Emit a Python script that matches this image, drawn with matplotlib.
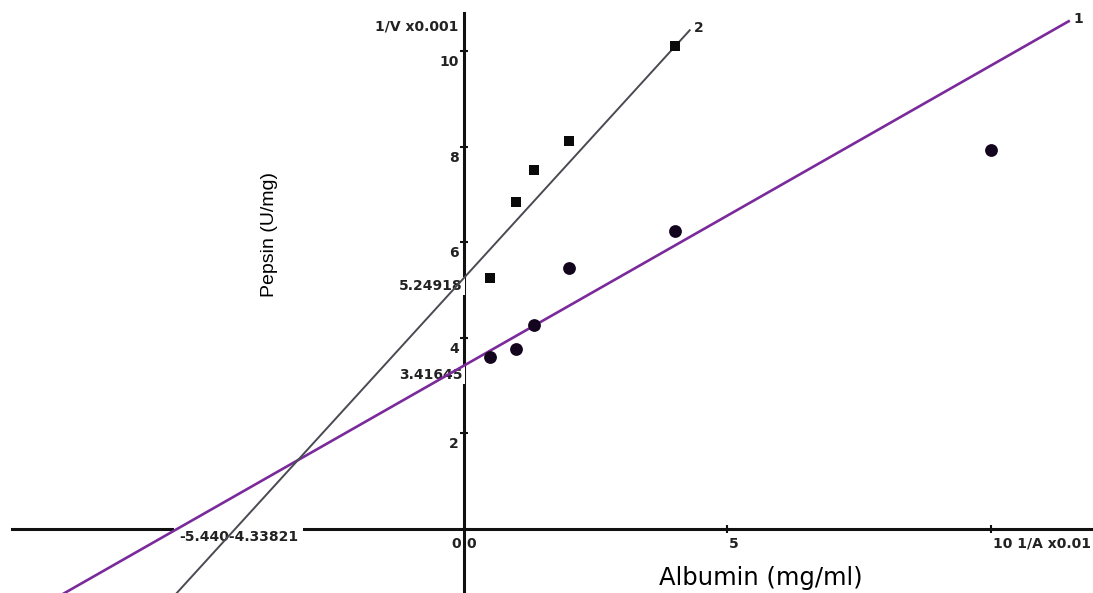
import matplotlib
matplotlib.use("Agg")
import matplotlib.pyplot as plt
import numpy as np

# ---- data ----
inv_albumin_1 = [0.5, 1.0, 1.33, 2.0, 4.0, 10.0]
inv_v_1 = [3.60, 3.77, 4.27, 5.46, 6.23, 7.93]
inv_albumin_2 = [0.5, 1.0, 1.33, 2.0, 4.0]
inv_v_2 = [5.25, 6.84, 7.51, 8.12, 10.1]

intercept_1 = 3.41645
xintercept_1 = -5.440
intercept_2 = 5.24918
xintercept_2 = -4.33821

line1_range = [-8.9, 11.5]
line2_range = [-5.7, 4.3]

y_ticks = [2, 4, 6, 8, 10]
x_ticks = [5, 10]

fig = plt.figure(figsize=(10.93, 5.93), dpi=100)
ax = fig.add_axes([0, 0, 1, 1])
ax.set_xlim(-8.8, 11.94)
ax.set_ylim(-1.34, 11.07)

# axes through origin
for side in ["top", "right"]:
    ax.spines[side].set_visible(False)
ax.spines["left"].set_position(("data", 0))
ax.spines["bottom"].set_position(("data", 0))
ax.spines["left"].set_bounds(-1.34, 10.8)
ax.spines["bottom"].set_bounds(-8.57, 11.94)
for s in ["left", "bottom"]:
    ax.spines[s].set_linewidth(2.2)
    ax.spines[s].set_color("#111111")
    ax.spines[s].set_zorder(2.5)
ax.set_xticks(x_ticks)
ax.set_yticks(y_ticks)
ax.set_xticklabels([])
ax.set_yticklabels([])
ax.tick_params(direction="inout", length=6, width=1.5, color="#111111")
ax.patch.set_visible(False)

lab_font = dict(family="DejaVu Sans", weight="bold", fontsize=10, color="#222222")

# y tick labels (left of axis, slightly below tick)
for t in y_ticks:
    ax.annotate(str(t), (0, t), xytext=(-5, -11), textcoords="offset pixels",
                ha="right", va="center", **lab_font)
# x tick labels
for t in x_ticks:
    txt = str(t) if t != 10 else "10 1/A x0.01"
    ax.annotate(txt, (t, 0), xytext=(2, -15), textcoords="offset pixels",
                ha="left", va="center", **lab_font)
ax.annotate("0", (0, 0), xytext=(-8, -15), textcoords="offset pixels",
            ha="center", va="center", **lab_font)
ax.annotate("0", (0, 0), xytext=(7, -15), textcoords="offset pixels",
            ha="center", va="center", **lab_font)
ax.annotate("1/V x0.001", (0, 10.8), xytext=(-5, -14), textcoords="offset pixels",
            ha="right", va="center", **lab_font)

# fitted lines
x1 = np.array(line1_range)
y1 = intercept_1 + intercept_1 / (-xintercept_1) * x1
x2 = np.array(line2_range)
y2 = intercept_2 + intercept_2 / (-xintercept_2) * x2
ax.plot(x1, y1, color="#7a2a9a", lw=1.9, zorder=4, solid_capstyle="butt")
ax.plot(x2, y2, color="#4a4a52", lw=1.4, zorder=4, solid_capstyle="butt")

# line labels
ax.annotate("1", (x1[-1], y1[-1]), xytext=(4, 2), textcoords="offset pixels",
            ha="left", va="center", **lab_font)
ax.annotate("2", (x2[-1], y2[-1]), xytext=(4, 2), textcoords="offset pixels",
            ha="left", va="center", **lab_font)

# intercept labels with white background covering axes
box = dict(boxstyle="square,pad=0.15", fc="white", ec="none")
ax.annotate(f"{intercept_2:.5f}", (0, intercept_2), xytext=(-1, -8),
            textcoords="offset pixels", ha="right", va="center",
            bbox=box, zorder=3, **lab_font)
ax.annotate(f"{intercept_1:.5f}", (0, intercept_1), xytext=(-1, -9),
            textcoords="offset pixels", ha="right", va="center",
            bbox=box, zorder=3, **lab_font)
ax.annotate(f"{xintercept_1:.3f}{xintercept_2:.5f}", (xintercept_1, 0),
            xytext=(2, -8), textcoords="offset pixels", ha="left", va="center",
            bbox=dict(boxstyle="square,pad=0.35", fc="white", ec="none"),
            zorder=3, **lab_font)

# data points
ax.scatter(inv_albumin_1, inv_v_1, marker="o", s=85, color="#14051f", zorder=5,
           linewidths=0)
ax.scatter(inv_albumin_2, inv_v_2, marker="s", s=60, color="#0a0a0a", zorder=5,
           linewidths=0)

# axis titles
fig.text(270 / 1093, 1 - 235 / 593, "Pepsin (U/mg)", rotation=90,
         family="Liberation Sans", fontsize=14, ha="center", va="center")
fig.text(761 / 1093, 1 - 578 / 593, "Albumin (mg/ml)", family="DejaVu Sans",
         fontsize=17.5, ha="center", va="center")

fig.savefig("out.png", dpi=100)
